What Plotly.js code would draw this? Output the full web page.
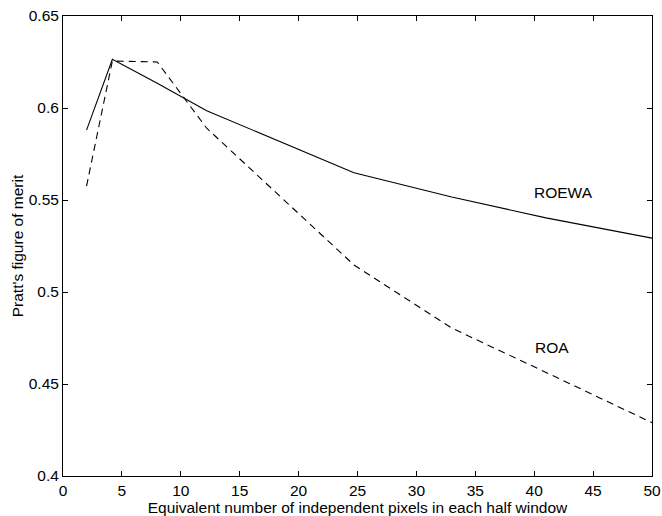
<!DOCTYPE html>
<html>
<head>
<meta charset="utf-8">
<script src="https://cdn.plot.ly/plotly-3.0.1.min.js"></script>
<style>html,body{margin:0;padding:0;background:#fff;}#chart{width:662px;height:516px;}</style>
</head>
<body>
<div id="chart"></div>
<script>
const xValues = [2, 4.19, 8, 12.2, 24.7, 33, 41, 50];
const roewa = [0.588, 0.6265, 0.6135, 0.5985, 0.5648, 0.5516, 0.5403, 0.5293];
const roa   = [0.5576, 0.6255, 0.6250, 0.589, 0.5147, 0.4804, 0.4563, 0.429];
const labels = [
  {text: 'ROEWA', x: 42.5, y: 0.5543},
  {text: 'ROA', x: 41.5, y: 0.4696}
];
const xTicks = [0,5,10,15,20,25,30,35,40,45,50];
const yTicks = [0.4,0.45,0.5,0.55,0.6,0.65];

const font = {family: 'Liberation Sans, Arial, Helvetica, sans-serif', size: 15.5, color: '#000'};

const traces = [
  {x: xValues, y: roewa, mode: 'lines', name: 'ROEWA', line: {color: '#000', width: 1.1}},
  {x: xValues, y: roa, mode: 'lines', name: 'ROA', line: {color: '#000', width: 1.1, dash: '7px,5px'}}
];

const axisCommon = {
  showgrid: false, zeroline: false, showline: true, linecolor: '#000', linewidth: 1,
  mirror: 'allticks', ticks: 'inside', ticklen: 5, tickcolor: '#000', tickwidth: 1,
  tickfont: font
};

const layout = {
  width: 662, height: 516,
  margin: {l: 63, r: 10, t: 16, b: 40},
  paper_bgcolor: '#fff', plot_bgcolor: '#fff',
  showlegend: false,
  font: font,
  xaxis: Object.assign({}, axisCommon, {
    range: [0, 50], tickvals: xTicks, ticktext: xTicks.map(String),
    title: {text: 'Equivalent number of independent pixels in each half window', font: font, standoff: 3}
  }),
  yaxis: Object.assign({}, axisCommon, {
    range: [0.4, 0.65], tickvals: yTicks, ticktext: yTicks.map(v => String(v)),
    title: {text: "Pratt's figure of merit", font: font, standoff: 1}
  }),
  annotations: labels.map(l => ({x: l.x, y: l.y, xref: 'x', yref: 'y', text: l.text, showarrow: false, font: font}))
};

Plotly.newPlot('chart', traces, layout, {displayModeBar: false, staticPlot: true});
</script>
</body>
</html>
